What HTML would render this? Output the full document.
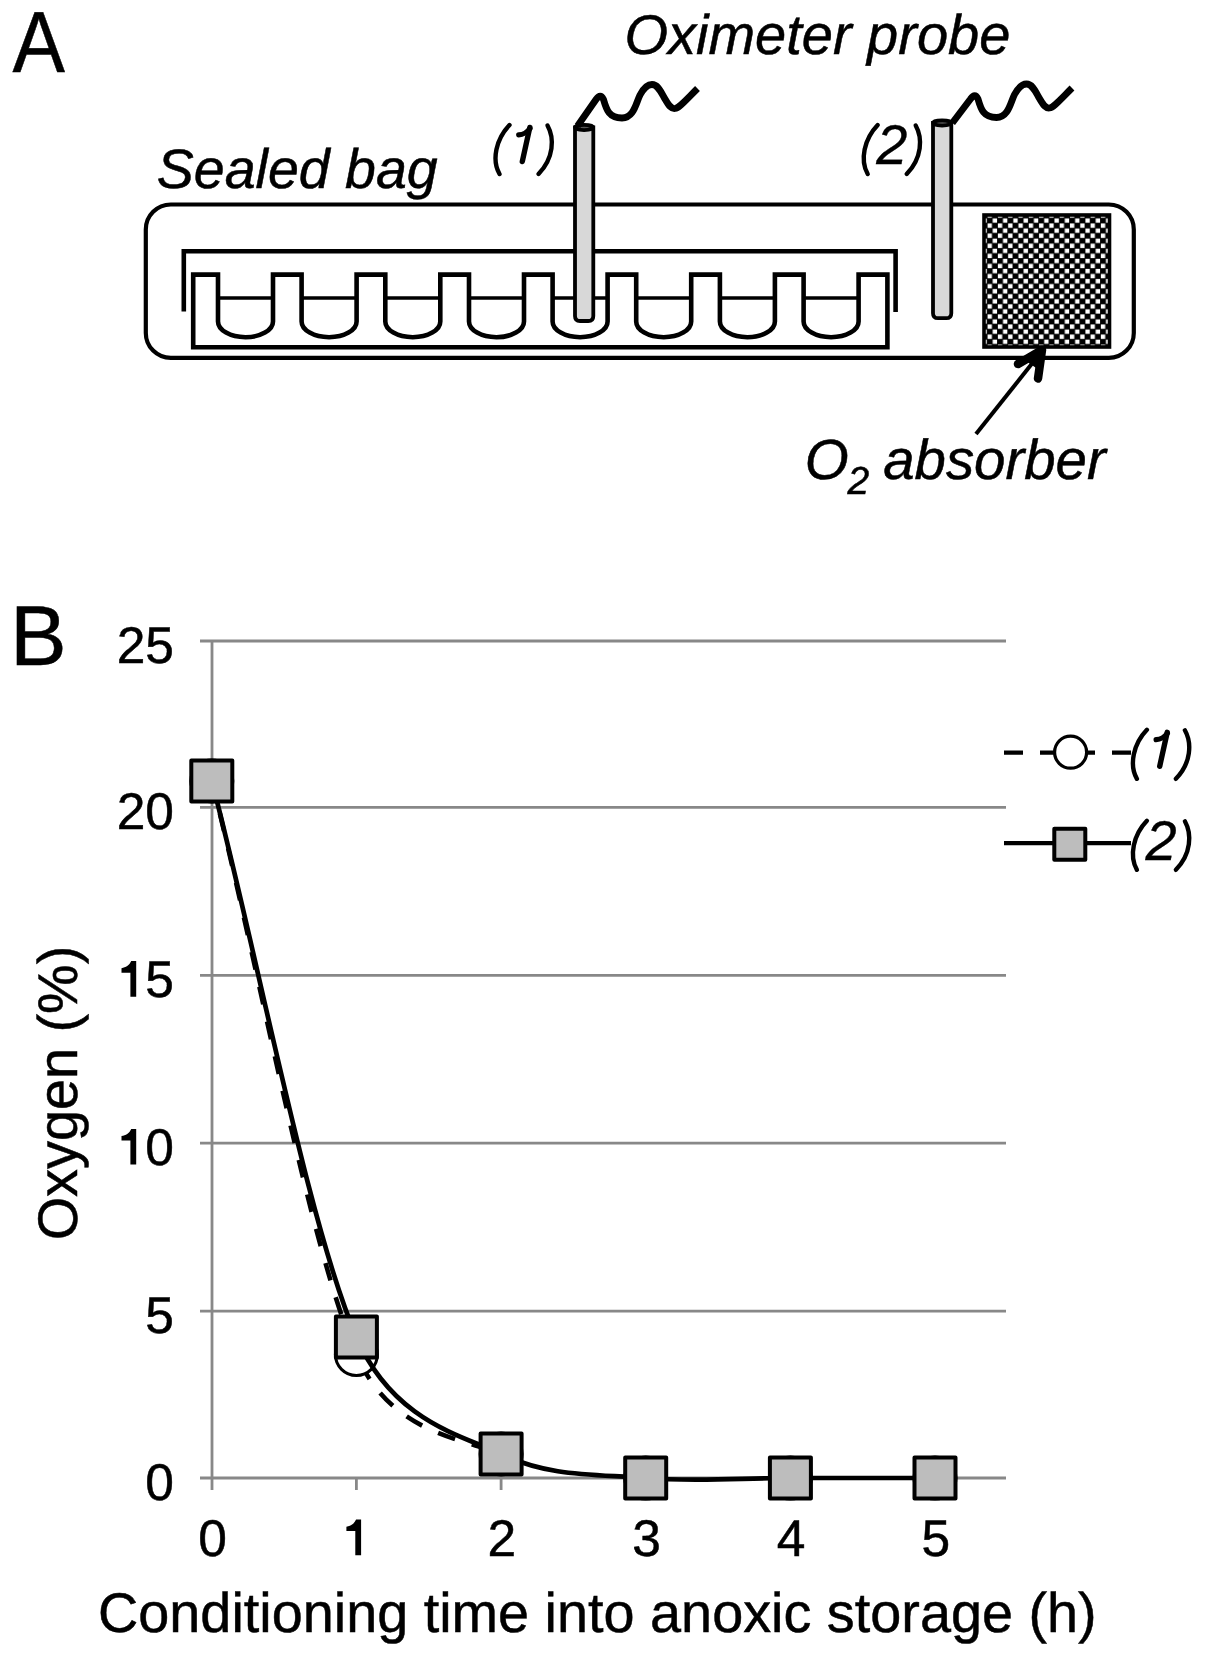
<!DOCTYPE html>
<html><head><meta charset="utf-8"><title>Figure</title>
<style>
html,body{margin:0;padding:0;background:#fff;width:1205px;height:1657px;overflow:hidden}
svg{display:block;-webkit-font-smoothing:antialiased}
text{text-rendering:geometricPrecision}
text{font-family:"Liberation Sans",sans-serif;fill:#000;stroke:#000;stroke-width:0.5px}
.it{font-style:italic}
</style></head><body>
<svg width="1205" height="1657" viewBox="0 0 1205 1657">
<defs>
<pattern id="chk" x="982" y="213" width="10.3" height="10.1" patternUnits="userSpaceOnUse">
<rect width="10.3" height="10.1" fill="#000"/>
<rect x="5.55" y="0.35" width="4.35" height="4.35" fill="#fff"/>
<rect x="0.4" y="5.4" width="4.35" height="4.35" fill="#fff"/>
</pattern>
</defs>
<rect width="1205" height="1657" fill="#fff"/>

<text x="12.4" y="71.7" font-size="86.8" transform="translate(12.4,71.7) scale(0.906,1) translate(-12.4,-71.7)">A</text>
<text class="it" x="624.4" y="54" font-size="56">Oximeter probe</text>
<text class="it" x="156.8" y="187.6" font-size="55.5">Sealed bag</text>
<g transform="translate(0.0,0.0)" fill="none" stroke="#000" stroke-linecap="round"><path d="M509.5,125 C496,139 491.5,160 499.5,174" stroke-width="4.4"/><path d="M547.5,125.5 C554.5,138 554,158 538.5,174" stroke-width="4.4"/><path d="M529.8,127.5 L522.3,161.5" stroke-width="5.4"/><path d="M530,128.5 C527,132.5 523.5,134.7 518.7,134.8" stroke-width="5.2"/></g>
<g transform="translate(368.2,0.0)" fill="none" stroke="#000" stroke-linecap="round"><path d="M509.5,125 C496,139 491.5,160 499.5,174" stroke-width="4.4"/><path d="M547.5,125.5 C554.5,138 554,158 538.5,174" stroke-width="4.4"/></g><text class="it" x="876.2" y="163.7" font-size="56" style="stroke-width:0.3px">2</text>
<text class="it" x="804.7" y="479.2" font-size="56.5">O</text>
<g transform="translate(847.5,494.3) scale(0.5)" style="filter:grayscale(1)"><text class="it" x="0" y="0" font-size="78" style="stroke-width:1px">2</text></g>
<text class="it" x="883.2" y="479.2" font-size="56.4">absorber</text>
<rect x="145.8" y="204.5" width="988" height="153.4" rx="25" ry="25" fill="none" stroke="#000" stroke-width="4.2"/>
<polyline points="183.8,311.5 183.8,251.3 895.6,251.3 895.6,312" fill="none" stroke="#000" stroke-width="4.6"/>
<path d="M193.2,347.2 L193.2,274.6 L218.0,274.6 L218.0,321.5 A27.5,15.7 0 0 0 273.0,321.5 L273.0,274.6 L301.6,274.6 L301.6,321.5 A27.5,15.7 0 0 0 356.6,321.5 L356.6,274.6 L385.3,274.6 L385.3,321.5 A27.5,15.7 0 0 0 440.3,321.5 L440.3,274.6 L469.0,274.6 L469.0,321.5 A27.5,15.7 0 0 0 524.0,321.5 L524.0,274.6 L552.6,274.6 L552.6,321.5 A27.5,15.7 0 0 0 607.6,321.5 L607.6,274.6 L636.2,274.6 L636.2,321.5 A27.5,15.7 0 0 0 691.2,321.5 L691.2,274.6 L719.9,274.6 L719.9,321.5 A27.5,15.7 0 0 0 774.9,321.5 L774.9,274.6 L803.6,274.6 L803.6,321.5 A27.5,15.7 0 0 0 858.6,321.5 L858.6,274.6 L887.4,274.6 L887.4,347.2 Z" fill="none" stroke="#000" stroke-width="4.6" stroke-linejoin="miter"/>
<line x1="218.0" y1="298" x2="273.0" y2="298" stroke="#000" stroke-width="3.4"/>
<line x1="301.6" y1="298" x2="356.6" y2="298" stroke="#000" stroke-width="3.4"/>
<line x1="385.3" y1="298" x2="440.3" y2="298" stroke="#000" stroke-width="3.4"/>
<line x1="469.0" y1="298" x2="524.0" y2="298" stroke="#000" stroke-width="3.4"/>
<line x1="552.6" y1="298" x2="607.6" y2="298" stroke="#000" stroke-width="3.4"/>
<line x1="636.2" y1="298" x2="691.2" y2="298" stroke="#000" stroke-width="3.4"/>
<line x1="719.9" y1="298" x2="774.9" y2="298" stroke="#000" stroke-width="3.4"/>
<line x1="803.6" y1="298" x2="858.6" y2="298" stroke="#000" stroke-width="3.4"/>
<path d="M575.0,127.5 L575.0,316.0 Q575.0,321.0 580.0,321.0 L588.3,321.0 Q593.3,321.0 593.3,316.0 L593.3,127.5 Z" fill="#d8d8d8" stroke="#000" stroke-width="3.8"/><ellipse cx="584.1" cy="127.5" rx="9.1" ry="2.6" fill="#555" stroke="#000" stroke-width="3.6"/>
<path d="M933.0,123.0 L933.0,313.2 Q933.0,318.2 938.0,318.2 L946.3,318.2 Q951.3,318.2 951.3,313.2 L951.3,123.0 Z" fill="#d8d8d8" stroke="#000" stroke-width="3.8"/><ellipse cx="942.1" cy="123.0" rx="9.1" ry="2.6" fill="#555" stroke="#000" stroke-width="3.6"/>
<path d="M577.5,126.0 L596.0,99.5 Q600.5,93.0 603.5,99.5 C606.5,110.0 609.0,118.0 622.0,118.0 C634.0,118.0 636.0,103.0 640.0,95.0 C644.0,87.5 647.5,84.5 652.0,84.5 C658.0,84.5 661.0,92.0 665.0,99.0 C669.0,106.0 671.5,109.0 675.0,108.5 C679.0,108.0 684.0,102.0 697.5,88.5" fill="none" stroke="#000" stroke-width="6.8" stroke-linecap="butt" stroke-linejoin="round"/>
<path d="M952.3,123.0 L970.5,99.0 Q975.0,92.5 978.0,99.0 C981.0,109.5 983.5,117.5 996.5,117.5 C1008.5,117.5 1010.5,102.5 1014.5,94.5 C1018.5,87.0 1022.0,84.0 1026.5,84.0 C1032.5,84.0 1035.5,91.5 1039.5,98.5 C1043.5,105.5 1046.0,108.5 1049.5,108.0 C1053.5,107.5 1058.5,101.5 1072.0,88.0" fill="none" stroke="#000" stroke-width="6.8" stroke-linecap="butt" stroke-linejoin="round"/>
<rect x="984" y="215" width="125.5" height="132" fill="url(#chk)" stroke="#000" stroke-width="3.6"/>
<line x1="976" y1="434" x2="1038" y2="356" stroke="#000" stroke-width="4"/>
<polyline points="1018,364 1042,350 1038,378.5" fill="none" stroke="#000" stroke-width="8.5" stroke-linejoin="round" stroke-linecap="round"/>
<polygon points="1042,350 1026,361 1039,370" fill="#000"/>
<text x="9.9" y="664.7" font-size="85">B</text>
<line x1="200" y1="1478.0" x2="1006" y2="1478.0" stroke="#888" stroke-width="2.8"/>
<line x1="200" y1="1311.1" x2="1006" y2="1311.1" stroke="#888" stroke-width="2.8"/>
<line x1="200" y1="1143.1" x2="1006" y2="1143.1" stroke="#888" stroke-width="2.8"/>
<line x1="200" y1="975.3" x2="1006" y2="975.3" stroke="#888" stroke-width="2.8"/>
<line x1="200" y1="807.3" x2="1006" y2="807.3" stroke="#888" stroke-width="2.8"/>
<line x1="200" y1="641.0" x2="1006" y2="641.0" stroke="#888" stroke-width="2.8"/>
<line x1="212" y1="641" x2="212" y2="1490" stroke="#888" stroke-width="2.8"/>
<line x1="356.4" y1="1478" x2="356.4" y2="1490" stroke="#888" stroke-width="2.8"/>
<line x1="501.1" y1="1478" x2="501.1" y2="1490" stroke="#888" stroke-width="2.8"/>
<line x1="645.7" y1="1478" x2="645.7" y2="1490" stroke="#888" stroke-width="2.8"/>
<line x1="790.4" y1="1478" x2="790.4" y2="1490" stroke="#888" stroke-width="2.8"/>
<line x1="935.0" y1="1478" x2="935.0" y2="1490" stroke="#888" stroke-width="2.8"/>
<text x="174" y="1499.5" font-size="51.5" text-anchor="end">0</text>
<text x="174" y="1332.6" font-size="51.5" text-anchor="end">5</text>
<text x="174" y="1164.6" font-size="51.5" text-anchor="end">0</text>
<path d="M136.2,1128.9 L136.2,1164.6 L130.4,1164.6 L130.4,1140.5 L121.5,1140.5 L121.5,1136.1 C125.9,1135.3 129.2,1133.4 131.2,1128.9 Z" fill="#000"/>
<text x="174" y="996.8" font-size="51.5" text-anchor="end">5</text>
<path d="M136.2,961.1 L136.2,996.8 L130.4,996.8 L130.4,972.7 L121.5,972.7 L121.5,968.3 C125.9,967.5 129.2,965.6 131.2,961.1 Z" fill="#000"/>
<text x="174" y="828.8" font-size="51.5" text-anchor="end">20</text>
<text x="174" y="662.5" font-size="51.5" text-anchor="end">25</text>
<text x="212.6" y="1555.5" font-size="51.5" text-anchor="middle">0</text>
<path d="M361.1,1519.5 L361.1,1555.2 L355.3,1555.2 L355.3,1531.1 L346.4,1531.1 L346.4,1526.7 C350.8,1525.9 354.1,1524.0 356.1,1519.5 Z" fill="#000"/>
<text x="501.9" y="1555.5" font-size="51.5" text-anchor="middle">2</text>
<text x="646.5" y="1555.5" font-size="51.5" text-anchor="middle">3</text>
<text x="791.2" y="1555.5" font-size="51.5" text-anchor="middle">4</text>
<text x="935.8" y="1555.5" font-size="51.5" text-anchor="middle">5</text>
<text x="98" y="1631.7" font-size="55.8">Conditioning time into anoxic storage (h)</text>
<text x="77.3" y="1240.3" font-size="55.8" transform="rotate(-90 77.3 1240.3)">Oxygen (%)</text>
<path d="M211.8,780.9 C260.0,972.1 308.2,1242.3 356.4,1354.5 C391.1,1435.1 466.4,1439.1 501.1,1453.9" fill="none" stroke="#000" stroke-width="4.6" stroke-dasharray="18,17.5" stroke-dashoffset="1.7" id="dash1"/>
<circle cx="211.8" cy="780.9" r="21" fill="#fff" stroke="#000" stroke-width="3"/>
<circle cx="356.4" cy="1354.5" r="21" fill="#fff" stroke="#000" stroke-width="3"/>
<circle cx="501.1" cy="1453.9" r="21" fill="#fff" stroke="#000" stroke-width="3"/>
<circle cx="645.7" cy="1478.0" r="21" fill="#fff" stroke="#000" stroke-width="3"/>
<circle cx="790.4" cy="1478.0" r="21" fill="#fff" stroke="#000" stroke-width="3"/>
<circle cx="935.0" cy="1478.0" r="21" fill="#fff" stroke="#000" stroke-width="3"/>
<path d="M211.8,780.9 C260.0,966.3 308.2,1224.9 356.4,1337.0 C393.2,1422.5 464.4,1436.0 501.1,1453.9 C549.3,1477.4 597.5,1474.0 645.7,1478.0 C693.9,1482.0 742.1,1478.0 790.4,1478.0 C838.6,1478.0 886.8,1478.0 935.0,1478.0" fill="none" stroke="#000" stroke-width="4.7"/>
<rect x="191.3" y="760.4" width="41" height="41" fill="#bdbdbd" stroke="#000" stroke-width="4" stroke-linejoin="round"/>
<rect x="335.9" y="1316.5" width="41" height="41" fill="#bdbdbd" stroke="#000" stroke-width="4" stroke-linejoin="round"/>
<rect x="480.6" y="1433.4" width="41" height="41" fill="#bdbdbd" stroke="#000" stroke-width="4" stroke-linejoin="round"/>
<rect x="625.2" y="1457.5" width="41" height="41" fill="#bdbdbd" stroke="#000" stroke-width="4" stroke-linejoin="round"/>
<rect x="769.9" y="1457.5" width="41" height="41" fill="#bdbdbd" stroke="#000" stroke-width="4" stroke-linejoin="round"/>
<rect x="914.5" y="1457.5" width="41" height="41" fill="#bdbdbd" stroke="#000" stroke-width="4" stroke-linejoin="round"/>
<line x1="1004" y1="752.6" x2="1131" y2="752.6" stroke="#000" stroke-width="4.3" stroke-dasharray="19,17" stroke-dashoffset="0"/>
<circle cx="1070.6" cy="752.2" r="16" fill="#fff" stroke="#000" stroke-width="3.2"/>
<g transform="translate(637.4,604.8)" fill="none" stroke="#000" stroke-linecap="round"><path d="M509.5,125 C496,139 491.5,160 499.5,174" stroke-width="4.4"/><path d="M547.5,125.5 C554.5,138 554,158 538.5,174" stroke-width="4.4"/><path d="M529.8,127.5 L522.3,161.5" stroke-width="5.4"/><path d="M530,128.5 C527,132.5 523.5,134.7 518.7,134.8" stroke-width="5.2"/></g>
<line x1="1004" y1="843.1" x2="1131" y2="843.1" stroke="#000" stroke-width="4.3"/>
<rect x="1054.3" y="828.8" width="31" height="31" fill="#bdbdbd" stroke="#000" stroke-width="4" stroke-linejoin="round"/>
<g transform="translate(637.4,695.8)" fill="none" stroke="#000" stroke-linecap="round"><path d="M509.5,125 C496,139 491.5,160 499.5,174" stroke-width="4.4"/><path d="M547.5,125.5 C554.5,138 554,158 538.5,174" stroke-width="4.4"/></g><text class="it" x="1145.4" y="859.5" font-size="56" style="stroke-width:0.3px">2</text>
</svg></body></html>
